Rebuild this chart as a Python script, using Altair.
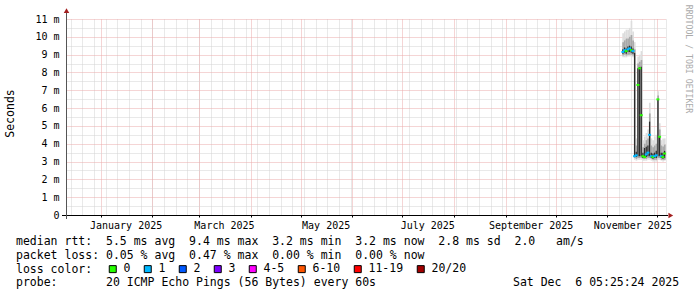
import altair as alt
import pandas as pd

NB = "\u00a0"
MONO = "DejaVu Sans Mono"

# ---------------- data (milliseconds) ----------------
days = ["2025-11-10", "2025-11-11", "2025-11-12", "2025-11-13", "2025-11-14",
        "2025-11-15", "2025-11-16", "2025-11-17", "2025-11-18", "2025-11-19",
        "2025-11-20", "2025-11-21", "2025-11-22", "2025-11-23", "2025-11-24",
        "2025-11-25", "2025-11-26", "2025-11-27", "2025-11-28", "2025-11-29",
        "2025-11-30", "2025-12-01", "2025-12-02", "2025-12-03", "2025-12-04",
        "2025-12-05"]
median_ms = [9.15, 9.25, 9.2, 9.3, 9.35, 9.25, 9.2,
             3.3, 3.35, 7.3, 8.23, 5.6,
             3.3, 3.25, 3.4, 3.5, 4.5,
             3.3, 3.25, 3.3, 3.35,
             6.49, 4.39, 3.3, 3.25, 3.45]
loss_bucket = ["1", "1", "0", "1", "1", "0", "1",
               "1", "1", "0", "0", "0",
               "0", "0", "1", "1", "1",
               "1", "0", "1", "1",
               "0", "0", "1", "0", "0"]
dark_lo = [9.05, 9.1, 9.05, 9.15, 9.15, 9.1, 9.05,
           3.3, 3.25, 3.3, 3.3, 3.3,
           3.2, 3.2, 3.25, 3.3, 3.3,
           3.2, 3.15, 3.2, 3.2,
           3.3, 3.3, 3.2, 3.15, 3.2]
dark_hi = [9.3, 9.4, 9.35, 9.45, 9.5, 9.45, 9.35,
           9.1, 3.55, 8.23, 8.3, 8.32,
           3.5, 3.76, 3.83, 3.9, 5.24,
           3.5, 3.45, 3.5, 3.6,
           6.49, 4.39, 3.5, 3.5, 3.6]
mid_lo = [8.95, 9.0, 8.95, 9.0, 9.0, 9.0, 8.95,
          3.2, 3.15, 3.2, 3.2, 3.2,
          3.15, 3.15, 3.15, 3.2, 3.2,
          3.15, 3.1, 3.1, 3.1,
          3.2, 3.2, 3.1, 3.1, 3.1]
mid_hi = [9.7, 9.8, 9.9, 9.9, 10.0, 10.1, 9.8,
          9.3, 3.9, 8.5, 8.6, 8.7,
          3.8, 4.0, 4.2, 4.3, 5.7,
          3.9, 3.8, 3.9, 4.0,
          6.7, 4.8, 3.9, 3.85, 3.95]
light_lo = [8.85, 8.85, 8.85, 8.9, 8.9, 8.9, 8.85,
            3.1, 3.05, 3.1, 3.1, 3.1,
            3.05, 3.05, 3.05, 3.1, 3.1,
            3.05, 3.0, 3.0, 3.0,
            3.1, 3.1, 3.05, 3.0, 3.05]
light_hi = [10.2, 10.3, 10.4, 10.4, 10.5, 10.9, 10.3,
            9.7, 4.3, 8.9, 9.0, 9.2,
            4.2, 4.4, 4.6, 4.8, 6.3,
            4.3, 4.2, 4.4, 4.5,
            6.95, 5.15, 4.2, 4.3, 4.3]

loss_labels = ["0", "1", "2", "3", "4-5", "6-10", "11-19", "20/20"]
loss_colors = ["#26ff00", "#00b8ff", "#0059ff", "#7e00ff",
               "#ff00ff", "#ff5500", "#ff0000", "#a10000"]

y_major = list(range(0, 12))
y_minor = [v + 0.5 for v in range(0, 11)]
label_months = [1, 3, 5, 7, 9, 11]

legend_rows = [
    "median rtt:  5.5 ms avg  9.4 ms max  3.2 ms min  3.2 ms now  2.8 ms sd  2.0   am/s",
    "packet loss: 0.05 % avg  0.47 % max  0.00 % min  0.00 % now",
    "loss color:",
    "probe:       20 ICMP Echo Pings (56 Bytes) every 60s",
]
stamp = "Sat Dec  6 05:25:24 2025"

# ---------------- table ----------------
df = pd.DataFrame({
    "day": pd.to_datetime(days),
    "median": median_ms,
    "loss": loss_bucket,
    "dark_lo": dark_lo, "dark_hi": dark_hi,
    "mid_lo": mid_lo, "mid_hi": mid_hi,
    "light_lo": light_lo, "light_hi": light_hi,
})
df["end"] = df["day"] + pd.Timedelta(days=1)
df["bar_end"] = df["day"] + pd.Timedelta(hours=18)
df["mid"] = df["day"] + pd.Timedelta(hours=9)


def dt(ts):
    return alt.DateTime(year=int(ts.year), month=int(ts.month), date=int(ts.day))


month_vals = [dt(t) for t in pd.date_range("2025-01-01", "2025-12-01", freq="MS")]
week_vals = [dt(t) for t in pd.date_range("2024-12-14", "2025-12-06", freq="W-SAT")]
label_vals = [alt.DateTime(year=2025, month=m, date=16) for m in label_months]

xs = alt.Scale(domain=[alt.DateTime(year=2024, month=12, date=11, hours=5, minutes=25),
                       alt.DateTime(year=2025, month=12, date=6, hours=5, minutes=25)])
ys = alt.Scale(domain=[0, 11], nice=False)

GRID_MINOR = "#d2d2d2"
GRID_MAJOR = "#eaaaaa"

x_minor_axis = alt.Axis(values=week_vals, grid=True, gridColor=GRID_MINOR, gridDash=[1, 1],
                        labels=False, ticks=False, domain=False, title=None, orient="bottom")
x_major_axis = alt.Axis(values=month_vals, grid=True, gridColor=GRID_MAJOR, gridDash=[1, 1],
                        labels=False, ticks=True, tickSize=2, tickColor="#000000",
                        domain=False, title=None, orient="bottom")
x_label_axis = alt.Axis(values=label_vals, grid=False, ticks=False, domain=False, title=None,
                        orient="bottom", format="%B %Y", labelFont=MONO, labelFontSize=10,
                        labelColor="#000000", labelAlign="center", labelBaseline="alphabetic",
                        labelPadding=13, labelFlush=False, labelOverlap=False)
y_minor_axis = alt.Axis(values=y_minor, grid=True, gridColor=GRID_MINOR, gridDash=[1, 1],
                        labels=False, ticks=False, domain=False, title=None, orient="left")
y_major_axis = alt.Axis(values=y_major, grid=True, gridColor=GRID_MAJOR, gridDash=[1, 1],
                        ticks=False, domain=False, title=None, orient="left",
                        labelFont=MONO, labelFontSize=10, labelColor="#000000",
                        labelPadding=7,
                        labelExpr="datum.value == 0 ? '0" + NB + NB + "' : datum.value + '" + NB + "m'")

base = alt.Chart(df)

light = base.mark_rect(color="#dddddd").encode(
    x=alt.X("day:T", scale=xs, axis=x_minor_axis), x2="end:T",
    y=alt.Y("light_lo:Q", scale=ys, axis=y_minor_axis), y2="light_hi:Q")
mid = base.mark_rect(color="#a8a8a8").encode(
    x=alt.X("day:T", scale=xs, axis=x_major_axis), x2="end:T",
    y=alt.Y("mid_lo:Q", scale=ys, axis=y_major_axis), y2="mid_hi:Q")
dark = base.mark_rect(color="#2b2b2b").encode(
    x=alt.X("day:T", scale=xs, axis=x_label_axis), x2="bar_end:T",
    y=alt.Y("dark_lo:Q", scale=ys, axis=None), y2="dark_hi:Q")

pad_expr = ("indexof(['0','1','2','3','11-19'], datum.label) >= 0 ? datum.label + '" + NB +
            "' : (datum.label == '6-10' ? datum.label + '" + NB + NB + "' : datum.label)")
med = base.mark_tick(orient="horizontal", thickness=2, size=3, opacity=1).encode(
    x=alt.X("mid:T", scale=xs, axis=None),
    y=alt.Y("median:Q", scale=ys, axis=None),
    color=alt.Color("loss:N", scale=alt.Scale(domain=loss_labels, range=loss_colors),
                    legend=alt.Legend(orient="none", legendX=41, legendY=244,
                                      direction="horizontal", symbolType="square",
                                      symbolSize=49, symbolStrokeColor="#000000",
                                      symbolStrokeWidth=1, symbolOpacity=1,
                                      labelFont=MONO, labelFontSize=11.5,
                                      labelColor="#000000", labelOffset=5,
                                      columnPadding=11, padding=0, title=None,
                                      labelExpr=pad_expr)))


def one(row):
    return alt.Chart(pd.DataFrame({"t": [row]}))


x_axis_line = one("x").mark_rule(color="#000000", strokeWidth=1).encode(
    x=alt.value(-4), x2=alt.value(602), y=alt.value(196.5))
y_axis_line = one("y").mark_rule(color="#555555", strokeWidth=1).encode(
    x=alt.value(0.5), y=alt.value(200), y2=alt.value(-6))
arrow_up = one("u").mark_point(shape="triangle-up", filled=True, size=30, opacity=1,
                               color="#a31f1f").encode(x=alt.value(0.5), y=alt.value(-8.3))
arrow_right = one("r").mark_point(shape="triangle-right", filled=True, size=30, opacity=1,
                                  color="#a31f1f").encode(x=alt.value(604.8), y=alt.value(196.5))

seconds = one("Seconds").mark_text(font=MONO, fontSize=11.5, angle=270, align="center",
                                   baseline="middle", color="#000000").encode(
    text="t:N", x=alt.value(-55), y=alt.value(94.5))
watermark = one("RRDTOOL / TOBI OETIKER").mark_text(font=MONO, fontSize=8.2, angle=90,
                                                    align="center", baseline="middle",
                                                    color="#aaaaaa").encode(
    text="t:N", x=alt.value(622), y=alt.value(40))

row_baselines = [225.5, 239.5, 253.5, 267.2]
text_layers = []
for row, yb in zip(legend_rows, row_baselines):
    text_layers.append(
        one(row.replace(" ", NB)).mark_text(font=MONO, fontSize=11.5, align="left",
                                            baseline="alphabetic", color="#000000").encode(
            text="t:N", x=alt.value(-50), y=alt.value(yb)))
text_layers.append(
    one(stamp.replace(" ", NB)).mark_text(font=MONO, fontSize=11.5, align="left",
                                          baseline="alphabetic", color="#000000").encode(
        text="t:N", x=alt.value(447), y=alt.value(267.2)))

chart = alt.layer(
    light, mid, dark, med,
    x_axis_line, y_axis_line, arrow_up, arrow_right,
    seconds, watermark, *text_layers
).resolve_axis(x="independent", y="independent").properties(
    width=600, height=196,
    autosize=alt.AutoSizeParams(type="none"),
    padding={"left": 66, "top": 19, "right": 31, "bottom": 82},
    background="white",
).configure_view(strokeWidth=0)

chart.save("out.html", embed_options={"renderer": "svg", "actions": False})
